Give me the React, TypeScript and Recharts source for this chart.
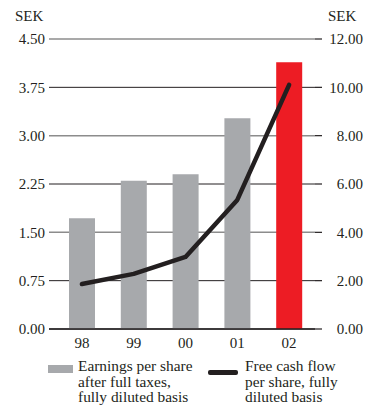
import { Bar, CartesianGrid, Cell, Line, XAxis, YAxis, ComposedChart } from "recharts"

const years = ["98", "99", "00", "01", "02"]
const earnings = [1.72, 2.3, 2.4, 3.27, 4.14]
const cashFlow = [1.86, 2.28, 2.98, 5.34, 10.1]
const leftTicks = [0, 0.75, 1.5, 2.25, 3, 3.75, 4.5]
const rightTicks = [0, 2, 4, 6, 8, 10, 12]
const barColors = ["#a7a9ac", "#a7a9ac", "#a7a9ac", "#a7a9ac", "#ed1c24"]

const data = years.map((year, i) => ({
  year,
  eps: earnings[i],
  fcf: cashFlow[i],
}))

const font = "'Liberation Serif', 'Times New Roman', serif"
const ink = "#231f20"

function RightTick({ x, y, payload }: any) {
  return (
    <text x={x + 41} y={y} dy="0.36em" textAnchor="end" fill={ink} fontSize={15} fontFamily={font}>
      {Number(payload.value).toFixed(2)}
    </text>
  )
}

export default function App() {
  return (
    <div style={{ position: "absolute", left: 0, top: 0, width: 372, height: 408, background: "#fff", fontFamily: font, color: ink }}>
      <div style={{ position: "absolute", left: 15, top: 8, fontSize: 15 }}>SEK</div>
      <div style={{ position: "absolute", left: 328, top: 8, fontSize: 15 }}>SEK</div>
      <ComposedChart
        width={372}
        height={355}
        data={data}
        margin={{ top: 39, right: 0, bottom: 6, left: 0 }}
      >
        <CartesianGrid yAxisId="left" vertical={false} horizontalValues={[0, 0.75, 2.25, 3.75]} stroke={ink} strokeWidth={1} />
        <CartesianGrid yAxisId="left" vertical={false} horizontalValues={[1.5, 3, 4.5]} stroke="#8c8c8c" strokeWidth={1.5} />
        <XAxis
          dataKey="year"
          height={20}
          padding={{ left: 7, right: 0 }}
          tickLine={false}
          axisLine={{ stroke: ink, strokeWidth: 1.3 }}
          tick={{ fill: ink, fontSize: 15, fontFamily: font }}
        />
        <YAxis
          yAxisId="left"
          width={49}
          domain={[0, 4.5]}
          ticks={leftTicks}
          tickFormatter={(v: number) => v.toFixed(2)}
          axisLine={false}
          tickLine={false}
          tickSize={0}
          tickMargin={4}
          tick={{ fill: ink, fontSize: 15, fontFamily: font }}
        />
        <YAxis
          yAxisId="right"
          orientation="right"
          width={57}
          domain={[0, 12]}
          ticks={rightTicks}
          axisLine={false}
          tickSize={7}
          tickMargin={0}
          tickLine={{ stroke: ink, strokeWidth: 1.2 }}
          tick={<RightTick />}
        />
        <Bar yAxisId="left" dataKey="eps" barSize={26} isAnimationActive={false}>
          {data.map((d, i) => (
            <Cell key={d.year} fill={barColors[i]} />
          ))}
        </Bar>
        <Line
          yAxisId="right"
          dataKey="fcf"
          type="linear"
          stroke={ink}
          strokeWidth={4.5}
          strokeLinecap="round"
          strokeLinejoin="round"
          dot={false}
          activeDot={false}
          isAnimationActive={false}
        />
      </ComposedChart>
      <div style={{ position: "absolute", left: 48, top: 365, width: 25, height: 8, background: "#a7a9ac" }} />
      <div style={{ position: "absolute", left: 78, top: 358, fontSize: 15.4, lineHeight: "15.6px" }}>
        Earnings per share<br />after full taxes,<br />fully diluted basis
      </div>
      <div style={{ position: "absolute", left: 208, top: 370, width: 30, height: 4.5, borderRadius: 2, background: ink }} />
      <div style={{ position: "absolute", left: 245, top: 358, fontSize: 15.4, lineHeight: "15.6px" }}>
        Free cash flow<br />per share, fully<br />diluted basis
      </div>
    </div>
  )
}
